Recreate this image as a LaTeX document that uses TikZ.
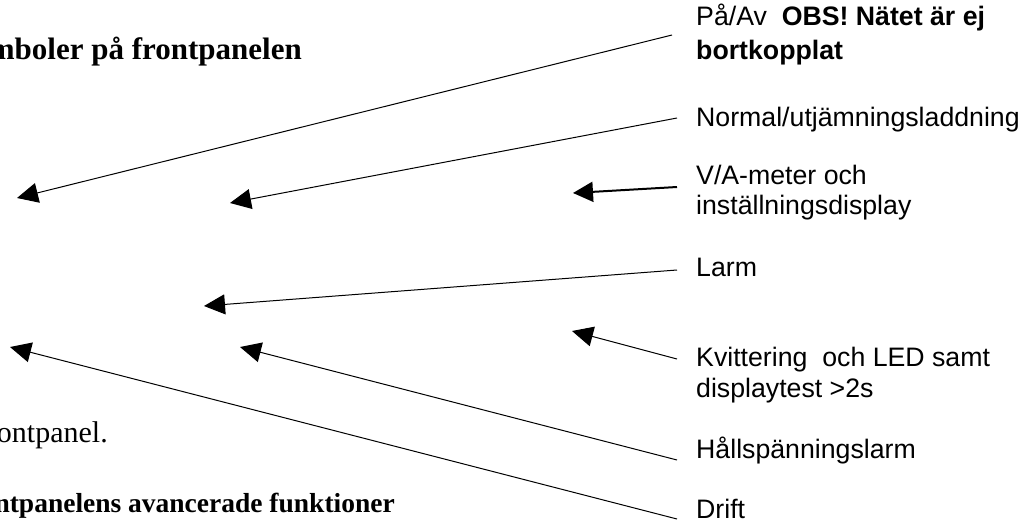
\documentclass[tikz,border=0pt]{standalone}
\usepackage{fontspec}
\setmainfont{Liberation Serif}
\newfontfamily\arialfont{Liberation Sans}
\usetikzlibrary{arrows.meta}
\begin{document}
\begin{tikzpicture}[x=1pt,y=-1pt,
  lbl/.style={anchor=base west,inner sep=0pt,font=\arialfont\fontsize{26.7}{30}\selectfont},
  ttl/.style={inner sep=0pt,font=\bfseries\fontsize{31}{35}\selectfont},
  ttlb/.style={inner sep=0pt,font=\bfseries\fontsize{27.5}{32}\selectfont},
  txt/.style={inner sep=0pt,font=\fontsize{30}{34}\selectfont},
  arr/.style={line width=1pt,-{Triangle[length=21pt,width=20pt]}},
  thickarr/.style={line width=2pt,-{Triangle[length=20pt,width=20pt]}}]
\useasboundingbox (0,0) rectangle (1021,522);
\clip (0,0) rectangle (1021,522);
% left texts
\node[ttl,anchor=base east] (t1) at (302,59) {mboler på frontpanelen};
\node[txt,anchor=base east] (t2) at (108,442) {frontpanel.};
\node[ttlb,anchor=base east] (t3) at (395,512) {Frontpanelens avancerade funktioner};
% right labels
\node[lbl] (l1a) at (696,25) {På/Av\ \ \textbf{OBS! Nätet är ej}};
\node[lbl] (l1b) at (696,59) {\bfseries bortkopplat};
\node[lbl] (l2) at (696,126) {Normal/utjämningsladdning};
\node[lbl] (l3a) at (696,184) {V/A-meter och};
\node[lbl] (l3b) at (696,214) {inställningsdisplay};
\node[lbl] (l4) at (696,276) {Larm};
\node[lbl] (l5a) at (696,366) {Kvittering\ \ och LED samt};
\node[lbl] (l5b) at (696,397) {displaytest >2s};
\node[lbl] (l6) at (696,458) {Hållspänningslarm};
\node[lbl] (l7) at (696,518) {Drift};
% connector ends
\coordinate (s1) at (672,35);  \coordinate (e1) at (17,198);
\coordinate (s2) at (677,118); \coordinate (e2) at (230,203);
\coordinate (s3) at (677,187); \coordinate (e3) at (573,193);
\coordinate (s4) at (677,270); \coordinate (e4) at (204,306);
\coordinate (s5) at (677,359); \coordinate (e5) at (572,331);
\coordinate (s6) at (677,460); \coordinate (e6) at (240,347);
\coordinate (s7) at (677,519); \coordinate (e7) at (10,347);
\draw[arr] (s1) -- (e1);
\draw[arr] (s2) -- (e2);
\draw[thickarr] (s3) -- (e3);
\draw[arr] (s4) -- (e4);
\draw[arr] (s5) -- (e5);
\draw[arr] (s6) -- (e6);
\draw[arr] (s7) -- (e7);
\end{tikzpicture}
\end{document}
